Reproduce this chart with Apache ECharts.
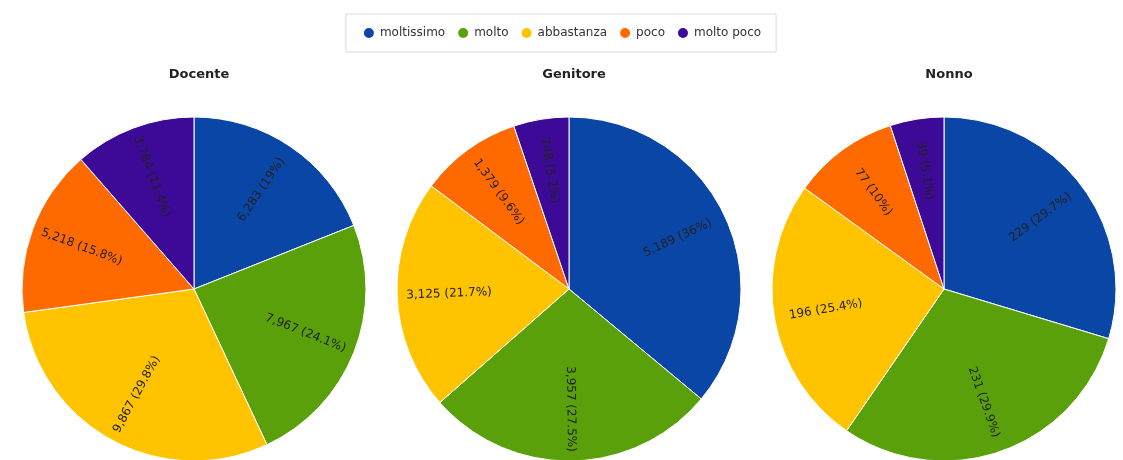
<!DOCTYPE html>
<html>
<head>
<meta charset="utf-8">
<script src="https://cdn.jsdelivr.net/npm/echarts@6/dist/echarts.min.js"></script>
<style>
  html, body { margin: 0; padding: 0; background: #fff; }
  #chart { width: 1123px; height: 460px; }
</style>
</head>
<body>
<div id="chart"></div>
<script>
// Response categories (legend order)
const categories = ['moltissimo', 'molto', 'abbastanza', 'poco', 'molto poco'];

// Respondent groups, one pie each
const groups = ['Docente', 'Genitore', 'Nonno'];

// Counts per group, in category order
const docenteValues = [6283, 7967, 9867, 5218, 3784];
const genitoreValues = [5189, 3957, 3125, 1379, 748];
const nonnoValues = [229, 231, 196, 77, 39];

const palette = ['#0a46a6', '#5aa00a', '#ffc300', '#ff6a00', '#3c0a96'];

const groupValues = [docenteValues, genitoreValues, nonnoValues];
const centersX = [194, 569, 944];
const centerY = 289;
const outerR = 172;
const fontFamily = '"DejaVu Sans", "Liberation Sans", sans-serif';

const fmt = new Intl.NumberFormat('en-US');
const labelText = p => fmt.format(p.value) + ' (' + (Math.round(p.percent * 10) / 10) + '%)';

const series = [];
groups.forEach((g, i) => {
  const data = categories.map((c, k) => ({ name: c, value: groupValues[i][k] }));
  // filled slices
  series.push({
    name: g,
    type: 'pie',
    center: [centersX[i], centerY],
    radius: [0, outerR],
    startAngle: 90,
    clockwise: true,
    emphasis: { disabled: true },
    itemStyle: { borderColor: '#ffffff', borderWidth: 1 },
    label: { show: false },
    labelLine: { show: false },
    data: data
  });
  // transparent ring carrying the radial value labels, placed further out
  series.push({
    name: g + ' etichette',
    type: 'pie',
    silent: true,
    center: [centersX[i], centerY],
    radius: [62, outerR],
    startAngle: 90,
    clockwise: true,
    emphasis: { disabled: true },
    itemStyle: { color: 'rgba(0,0,0,0)', borderWidth: 0 },
    label: {
      show: true,
      position: 'inside',
      rotate: 'radial',
      color: '#222',
      fontSize: 12,
      fontFamily: fontFamily,
      formatter: labelText
    },
    labelLine: { show: false },
    data: data
  });
});

const titles = groups.map((g, i) => ({
  text: g,
  left: centersX[i],
  top: 63,
  textAlign: 'center',
  textStyle: { fontSize: 13, fontWeight: 'bold', color: '#222', fontFamily: fontFamily }
}));

const chart = echarts.init(document.getElementById('chart'), null, { renderer: 'canvas' });
chart.setOption({
  animation: false,
  color: palette,
  title: titles,
  legend: {
    data: categories,
    top: 14,
    left: 'center',
    icon: 'circle',
    itemWidth: 12,
    itemHeight: 12,
    itemGap: 11,
    padding: [12, 15, 12, 16],
    borderColor: '#d9d9d9',
    borderWidth: 1,
    textStyle: { fontSize: 12, color: '#333', fontFamily: fontFamily }
  },
  series: series
});
</script>
</body>
</html>
